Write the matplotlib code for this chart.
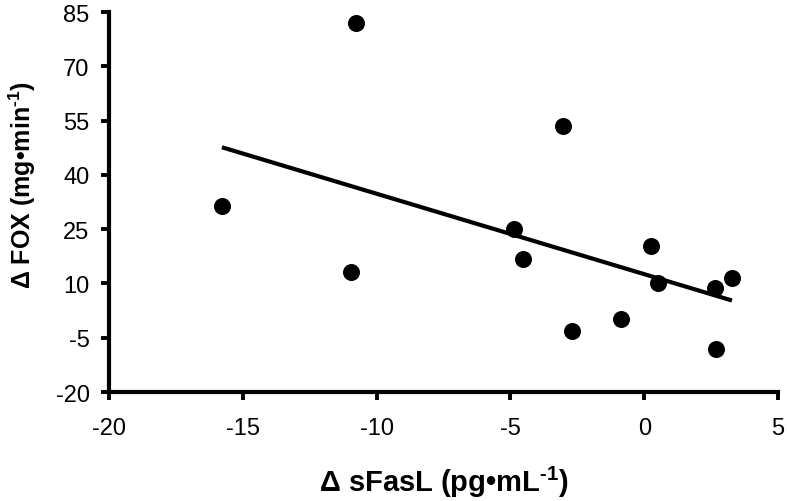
import numpy as np
import matplotlib
matplotlib.use("Agg")
import matplotlib.pyplot as plt

plt.rcParams['font.family'] = ['Liberation Sans', 'DejaVu Sans']
plt.rcParams['mathtext.fontset'] = 'custom'
plt.rcParams['mathtext.rm'] = 'Liberation Sans'
plt.rcParams['mathtext.bf'] = 'Liberation Sans:bold'

# Data
d_sfasl = [-15.78, -10.77, -10.96, -3.03, -4.87, -4.53, -2.70, -0.87, 0.25, 0.52, 2.65, 3.28, 2.68]
d_fox = [31.4, 82.0, 13.2, 53.5, 25.0, 16.8, -3.1, 0.2, 20.3, 10.1, 8.7, 11.5, -8.1]

x_ticks = [-20, -15, -10, -5, 0, 5]
y_ticks = [-20, -5, 10, 25, 40, 55, 70, 85]

fig = plt.figure(figsize=(7.87, 5.02), dpi=100)
ax = fig.add_axes([0.1385, 0.2171, 0.8501, 0.7569])

x = np.array(d_sfasl)
y = np.array(d_fox)
ax.scatter(x, y, s=150, color='black', zorder=3, linewidths=0)

slope, intercept = np.polyfit(x, y, 1)
xl = np.array([x.min(), x.max()])
ax.plot(xl, slope * xl + intercept, color='black', lw=3.0, solid_capstyle='butt')

ax.set_xlim(-20, 5)
ax.set_ylim(-20, 85)
ax.set_xticks(x_ticks)
ax.set_yticks(y_ticks)
ax.set_xticklabels([str(v) for v in x_ticks])
ax.set_yticklabels([str(v) for v in y_ticks])

for s in ['top', 'right']:
    ax.spines[s].set_visible(False)
for s in ['left', 'bottom']:
    ax.spines[s].set_linewidth(3.0)
ax.tick_params(axis='both', direction='out', length=6, width=2.8, labelsize=17, colors='black')
ax.tick_params(axis='x', pad=12)
ax.tick_params(axis='y', pad=8)

ax.set_xlabel('Δ sFasL (pg•mL$^{\\mathbf{\u2010 1}}$)', fontsize=21, fontweight='bold')
ax.set_ylabel('Δ FOX (mg•min$^{\\mathbf{\u2010 1}}$)', fontsize=18, fontweight='bold')
ax.xaxis.set_label_coords(0.5, -0.19)
ax.yaxis.set_label_coords(-0.106, 0.547)

fig.savefig('out.png', dpi=100)
